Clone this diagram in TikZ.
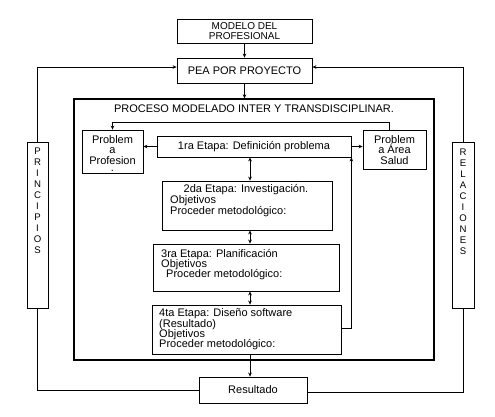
\documentclass[tikz,border=0pt]{standalone}
\usepackage{fontspec}
\setmainfont{Liberation Sans}
\usetikzlibrary{arrows.meta}
\begin{document}
\begin{tikzpicture}[x=1pt,y=-1pt,
  box/.style={draw, line width=0.8pt, inner sep=0pt, fill=white},
  bigbox/.style={draw, line width=1.4pt, inner sep=0pt},
  txt/.style={inner sep=0pt, font={\fontsize{11}{10.5}\selectfont\lineskiplimit=-20pt\relax}},
  vtxt/.style={inner sep=0pt, align=center, font={\fontsize{9.6}{11}\selectfont\lineskiplimit=-20pt\relax}},
  conn/.style={line width=0.8pt},
  arr/.style={line width=0.8pt, -{Stealth[length=4pt,width=3.6pt]}},
  darr/.style={line width=0.8pt, {Stealth[length=4pt,width=3.6pt]}-{Stealth[length=4pt,width=3.6pt]}}]
\useasboundingbox (0,0) rectangle (495,416);
% main boxes
\node[box, minimum width=135pt, minimum height=24pt, align=center,
  font={\fontsize{10}{9.5}\selectfont}] (modelo) at (244.5,31) {MODELO DEL\\PROFESIONAL};
\node[box, txt, minimum width=135pt, minimum height=25pt] (pea) at (244.5,70.5) {PEA POR PROYECTO};
\node[bigbox, minimum width=360pt, minimum height=261pt] (proc) at (254,229.5) {};
\node[txt, anchor=base] (title) at (254,112) {PROCESO MODELADO INTER Y TRANSDISCIPLINAR.};
% problem boxes
\node[box, minimum width=61pt, minimum height=43pt] (probA) at (112.5,151.5) {};
\node[txt, anchor=base, align=center] (probAt) at (112.5,171.5) {Problem\\a\\Profesion\\[-3pt].};
\node[box, minimum width=63pt, minimum height=39pt] (probB) at (394.5,149.5) {};
\node[txt, anchor=base, align=center] (probBt) at (394.5,164) {Problem\\a Área\\Salud};
% stages
\node[box, txt, minimum width=194pt, minimum height=21pt] (e1) at (254,146.5) {1ra Etapa: Definición problema};
\node[box, minimum width=170pt, minimum height=49pt] (e2) at (247,205.5) {};
\node[txt, anchor=base] (e2a) at (246,192.3) {2da Etapa: Investigación.};
\node[txt, anchor=base west, align=left, font={\fontsize{11}{11}\selectfont\lineskiplimit=-20pt\relax}] (e2b) at (170,214) {Objetivos\\Proceder metodológico:};
\node[box, minimum width=186pt, minimum height=47pt] (e3) at (246,267.5) {};
\node[txt, anchor=base west, align=left, font={\fontsize{11}{10}\selectfont\lineskiplimit=-20pt\relax}] (e3t) at (161,277.3) {3ra Etapa: Planificación\\Objetivos\\\hspace*{5pt}Proceder metodológico:};
\node[box, minimum width=189pt, minimum height=49pt] (e4) at (246.5,329.5) {};
\node[txt, anchor=base west, align=left, font={\fontsize{11}{10.4}\selectfont\lineskiplimit=-20pt\relax}] (e4t) at (159,347.9) {4ta Etapa: Diseño software\\(Resultado)\\Objetivos\\Proceder metodológico:};
% result
\node[box, txt, minimum width=108pt, minimum height=26pt] (res) at (253,390) {Resultado};
% side boxes
\node[box, minimum width=21pt, minimum height=166pt] (princ) at (37.5,225) {};
\node[vtxt, anchor=base] (princt) at (37.5,253) {P\\R\\I\\N\\C\\I\\P\\I\\O\\S};
\node[box, minimum width=22pt, minimum height=166pt] (relac) at (463,225) {};
\node[vtxt, anchor=base] (relact) at (463,254) {R\\E\\L\\A\\C\\I\\O\\N\\E\\S};
% connectors
\draw[arr] (modelo.south) -- (pea.north);
\draw[arr] (pea.south) -- (pea.south |- proc.north);
\coordinate (tB) at ([xshift=-5.5pt]probB.north);
\draw[arr] (tB) -- ++(0,-7) -| (probA.north);
\draw[arr] (e1.west) -- (e1.west -| probA.east);
\draw[arr] (e1.east) -- (e1.east -| probB.west);
\coordinate (ax) at ([xshift=-4pt]e1.south);
\draw[darr] (ax) -- (ax |- e2.north);
\coordinate (bx) at (ax |- e2.south);
\draw[darr] (bx) -- (bx |- e3.north);
\coordinate (cx) at (ax |- e3.south);
\draw[darr] (cx) -- (cx |- e4.north);
\coordinate (dx) at (ax |- e4.south);
\draw[arr] (dx) -- (dx |- res.north);
\draw[arr] ([yshift=1.5pt]e4.east) -| (e1.south east);
\draw[conn] (res.west) -| (princ.south);
\draw[arr] (princ.north) |- ([yshift=3.5pt]pea.west);
\draw[conn] ([yshift=-2pt]res.east) -| (relac.south);
\draw[arr] (relac.north) |- ([yshift=3.5pt]pea.east);
\end{tikzpicture}
\end{document}
